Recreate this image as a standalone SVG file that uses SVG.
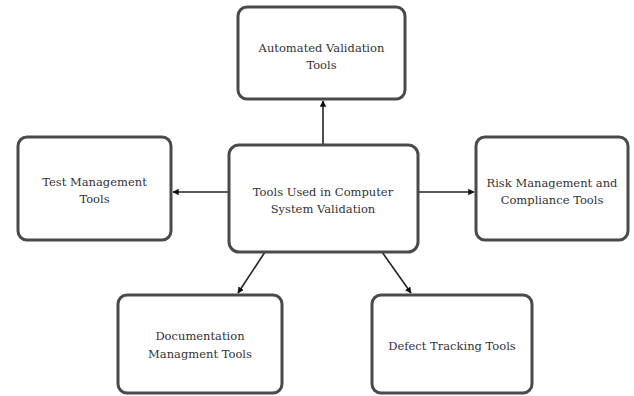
<svg xmlns="http://www.w3.org/2000/svg" width="634" height="396" viewBox="0 0 634 396">
<style>
.box{fill:#fff;stroke:#4a4a4a;stroke-width:3}
.t{font-family:'DejaVu Serif','Liberation Serif',serif;font-size:11.5px;fill:#333;text-anchor:middle}
.c{stroke:#222;stroke-width:1.6;fill:none;marker-end:url(#ah)}
</style>
<defs>
<marker id="ah" viewBox="0 0 10 10" refX="9" refY="5" markerWidth="4" markerHeight="4" orient="auto">
<path d="M0,0 L10,5 L0,10 z" fill="#111"/>
</marker>
</defs>
<rect width="634" height="396" fill="#fff"/>
<g id="connectors">
<line class="c" x1="323" y1="145" x2="323" y2="101"/>
<line class="c" x1="228" y1="192" x2="173" y2="192"/>
<line class="c" x1="418" y1="192" x2="474" y2="192"/>
<line class="c" x1="265" y1="252" x2="238" y2="293"/>
<line class="c" x1="382" y1="252" x2="411" y2="293"/>
</g>
<g id="automated">
<rect class="box" x="238" y="7" width="167" height="92" rx="9"/>
<text class="t" x="321.5" y="52">Automated Validation</text>
<text class="t" x="321.5" y="69">Tools</text>
</g>
<g id="test">
<rect class="box" x="18" y="137" width="153" height="103" rx="9"/>
<text class="t" x="94.5" y="186">Test Management</text>
<text class="t" x="94.5" y="203">Tools</text>
</g>
<g id="center">
<rect class="box" x="229" y="145" width="189" height="107" rx="10"/>
<text class="t" x="323" y="196">Tools Used in Computer</text>
<text class="t" x="323" y="213">System Validation</text>
</g>
<g id="risk">
<rect class="box" x="476" y="137" width="152" height="103" rx="9"/>
<text class="t" x="552" y="187">Risk Management and</text>
<text class="t" x="552" y="204">Compliance Tools</text>
</g>
<g id="documentation">
<rect class="box" x="118" y="295" width="164" height="98" rx="9"/>
<text class="t" x="200" y="340">Documentation</text>
<text class="t" x="200" y="358">Managment Tools</text>
</g>
<g id="defect">
<rect class="box" x="372" y="295" width="160" height="98" rx="9"/>
<text class="t" x="452" y="350">Defect Tracking Tools</text>
</g>
</svg>
